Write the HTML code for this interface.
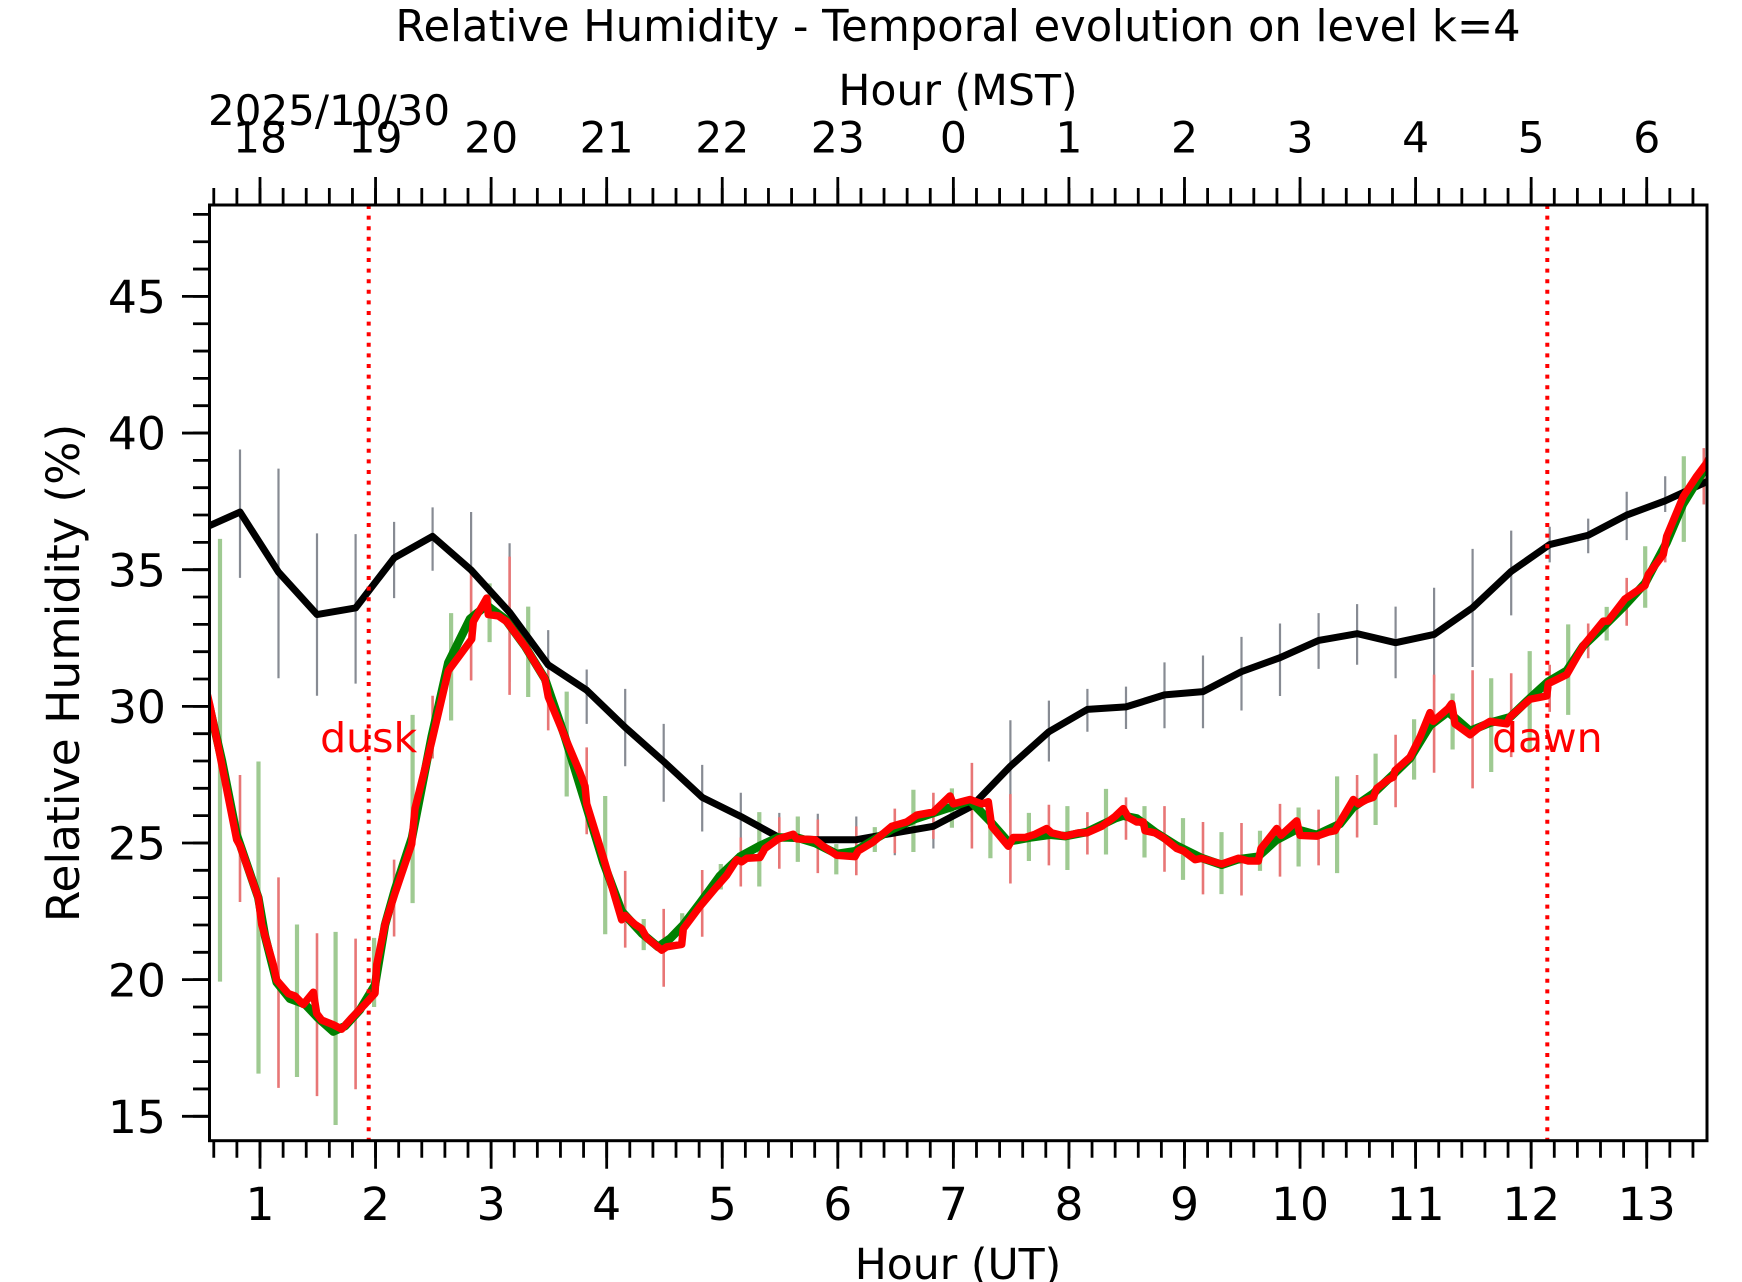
<!DOCTYPE html>
<html><head><meta charset="utf-8"><style>
html,body{margin:0;padding:0;background:#fff;}
svg{display:block;font-family:"DejaVu Sans","Liberation Sans",sans-serif;}
</style></head><body>
<svg width="1742" height="1282" viewBox="0 0 1742 1282" xmlns="http://www.w3.org/2000/svg">
<rect width="1742" height="1282" fill="#fff"/>
<defs><clipPath id="pa"><rect x="209.5" y="205" width="1497.5" height="935.7"/></clipPath></defs>

<!-- data -->
<g clip-path="url(#pa)">
<g transform="matrix(1 0 0 -27.33 0 1526.25)" fill="none">
<path vector-effect="non-scaling-stroke" stroke="#878b93" stroke-width="2.2" d="M240 39.4V34.7M278.5 38.7V31.03M317 36.33V30.39M355.6 36.3V30.83M394.1 36.75V33.96M432.6 37.28V34.96M471.1 37.11V30.95M509.6 35.97V30.9M548.2 32.79V30.25M586.7 31.35V29.36M625.2 30.64V27.81M663.7 29.36V26.51M702.2 27.86V25.42M740.8 26.84V25.1M779.3 26.1V24.3M817.8 26.07V24.2M856.3 25.97V24.3M894.8 26.2V24.55M933.4 26.4V24.8M971.9 27.3V25.4M1010.4 29.49V26.1M1048.9 30.21V27.98M1087.4 30.64V29.07M1126 30.72V29.17M1164.5 31.61V29.2M1203 31.86V29.2M1241.5 32.54V29.85M1280 33.03V30.38M1318.6 33.41V31.37M1357.1 33.74V31.52M1395.6 33.65V31.03M1434.1 34.34V30.9M1472.6 35.76V31.44M1511.2 36.43V33.33M1549.7 36.57V35.27M1588.2 36.87V35.6M1626.7 37.85V36.08M1665.2 38.42V37.11M1703.8 39.0V37.39"/>
<path vector-effect="non-scaling-stroke" stroke="#9fca92" stroke-width="4.2" d="M220 36.13V19.93M258.5 27.98V16.56M297 22.02V16.44M335.6 21.75V14.68M374.1 21.53V19.0M412.6 29.69V22.8M451.1 33.41V29.48M489.6 34.5V32.35M528.2 33.65V30.34M566.7 30.54V26.7M605.2 26.72V21.66M643.7 22.22V21.08M682.2 22.43V21.7M720.8 24.23V23.3M759.3 26.13V23.41M797.8 25.97V24.31M836.3 24.96V23.85M874.8 25.58V24.67M913.4 26.95V24.67M951.9 27.0V25.56M990.4 26.13V24.44M1028.9 26.1V24.34M1067.4 26.35V24.01M1106 26.98V24.58M1144.5 26.35V24.47M1183 25.91V23.65M1221.5 25.4V23.13M1260 25.45V23.98M1298.6 26.3V24.14M1337.1 27.44V23.9M1375.6 28.27V25.66M1414.1 29.53V27.32M1452.6 30.47V28.42M1491.2 31.03V27.6M1529.7 32.02V28.39M1568.2 33.0V29.69M1606.7 33.64V32.41M1645.2 35.86V33.61M1683.8 39.15V36.02"/>
<path vector-effect="non-scaling-stroke" stroke="#e87676" stroke-width="2.6" d="M240 27.49V22.84M278.5 23.74V16.04M317 21.7V15.74M355.6 21.5V15.99M394.1 24.39V21.58M432.6 30.39V28.09M471.1 34.9V30.95M509.6 35.48V30.42M548.2 31.32V29.12M586.7 28.5V25.32M625.2 23.98V21.17M663.7 22.59V19.74M702.2 24.01V21.57M740.8 25.2V23.41M779.3 25.94V24.06M817.8 25.86V23.9M856.3 25.61V23.82M894.8 26.26V24.63M933.4 26.84V25.15M971.9 27.93V24.8M1010.4 26.79V23.52M1048.9 26.4V24.18M1087.4 26.13V24.58M1126 26.67V25.12M1164.5 26.35V23.95M1203 25.77V23.12M1241.5 25.73V23.08M1280 26.43V23.77M1318.6 26.22V24.18M1357.1 27.49V25.2M1395.6 28.96V26.31M1434.1 31.16V27.57M1472.6 31.32V27.0M1511.2 31.21V28.14M1549.7 31.52V29.8M1588.2 33.03V31.76M1626.7 34.7V32.95M1665.2 36.25V35.27M1703.8 39.45V37.39"/>
<polyline vector-effect="non-scaling-stroke" stroke="#000" stroke-width="7" stroke-linejoin="round" points="201.5,36.48 240,37.11 278.5,34.91 317,33.36 355.6,33.6 394.1,35.43 432.6,36.22 471.1,34.99 509.6,33.44 548.2,31.52 586.7,30.59 625.2,29.23 663.7,27.98 702.2,26.67 740.8,25.97 779.3,25.2 817.8,25.12 856.3,25.12 894.8,25.37 933.4,25.61 971.9,26.35 1010.4,27.81 1048.9,29.07 1087.4,29.89 1126,29.98 1164.5,30.42 1203,30.54 1241.5,31.27 1280,31.78 1318.6,32.41 1357.1,32.66 1395.6,32.33 1434.1,32.63 1472.6,33.61 1511.2,34.94 1549.7,35.92 1588.2,36.26 1626.7,37.0 1665.2,37.52 1703.8,38.17 1742.3,38.8"/>
<polyline vector-effect="non-scaling-stroke" stroke="#008000" stroke-width="8.5" stroke-linejoin="round" points="205,30.6 210,29.9 222,28.0 236.7,25.3 258.3,23.0 265,21.6 276.7,19.9 290,19.3 305,19.1 318,18.6 333.3,18.1 345,18.3 360,18.9 375,19.8 385,22.0 395,23.3 412,25.2 431.7,28.9 448.3,31.6 470,33.2 486.7,33.7 505,33.2 525,32.2 545,31.0 565,28.87 585,26.5 603.3,24.3 621.7,22.5 641.7,21.7 658,21.2 670,21.5 683.3,22.0 700,22.8 720,23.8 740,24.5 760,24.9 778,25.2 797,25.2 815,25.0 836.7,24.6 855,24.7 873,25.1 891.7,25.5 916.7,25.9 950,26.3 970,26.55 990,25.8 1008,25.05 1030,25.2 1050,25.3 1065,25.25 1086.7,25.4 1115,25.9 1123,26.0 1136.7,25.9 1155,25.4 1176.7,24.9 1201.7,24.45 1221.7,24.2 1238,24.4 1258,24.5 1276,25.1 1296.7,25.5 1316.7,25.3 1340,25.7 1353,26.3 1373,26.8 1393,27.5 1410,28.1 1430,29.3 1448,29.8 1470,29.1 1490,29.4 1510,29.6 1530,30.3 1548,30.9 1566.7,31.3 1583,32.2 1603,32.9 1625,33.7 1645,34.5 1666.7,36.0 1683,37.4 1706.7,38.8 1712,39.2"/>
<polyline vector-effect="non-scaling-stroke" stroke="#ff0000" stroke-width="7.5" stroke-linejoin="round" points="205,30.8 210,30.02 220,28.2 236.7,25.12 240,24.9 258.3,23.0 261.7,22.02 273.3,20.55 276.7,19.98 288.3,19.49 295,19.4 303.3,19.09 313.3,19.54 316.7,18.76 321.7,18.52 333.3,18.35 341.7,18.19 351.7,18.6 365,19.1 375,19.5 376.7,20.55 385,22.02 395,23.16 411.7,24.96 415,26.26 431.7,28.71 448.3,31.3 471.7,32.46 473.3,33.1 486.7,33.96 488.3,33.36 498.3,33.31 506.7,33.1 525,32.2 545,30.99 548.3,30.34 565,28.87 580,27.57 585,27.08 586.7,26.43 603.3,24.47 621.7,22.19 625,22.35 635,22.02 641.7,21.86 646.7,21.53 661.7,21.08 666.7,21.2 681.7,21.29 683.3,21.86 700,22.68 715,23.33 726.7,23.82 736.7,24.39 741.7,24.31 746.7,24.44 760,24.47 765,24.8 778.3,25.15 793.3,25.32 796.7,25.15 815,25.12 823.3,24.88 836.7,24.55 855,24.5 858.3,24.71 873.3,25.04 891.7,25.61 906.7,25.77 916.7,26.02 933.3,26.13 950,26.72 953.3,26.43 970,26.59 981.7,26.43 988.3,26.51 991.7,25.61 1008.3,24.88 1013.3,25.2 1025,25.2 1035,25.32 1046.7,25.53 1051.7,25.37 1065,25.25 1078.3,25.37 1086.7,25.37 1101.7,25.61 1115,25.97 1123.3,26.26 1128.3,25.94 1136.7,25.77 1143.3,25.77 1145,25.45 1155,25.37 1163.3,25.2 1176.7,24.8 1183.3,24.71 1195,24.39 1201.7,24.44 1221.7,24.23 1238.3,24.44 1248.3,24.34 1258.3,24.34 1261,24.8 1276.7,25.53 1281,25.28 1296.7,25.81 1300,25.28 1316.7,25.25 1328.3,25.4 1335,25.45 1340,25.77 1353.3,26.59 1358.3,26.43 1366.7,26.59 1373.3,26.67 1376.7,27.0 1388.3,27.32 1393.3,27.41 1395,27.65 1410,28.14 1420,28.87 1430,29.77 1433.3,29.45 1448.3,29.93 1451.7,30.1 1455,29.36 1470,28.96 1478.3,29.2 1490,29.45 1506.7,29.36 1510,29.61 1530,30.26 1546.7,30.38 1548.3,30.83 1566.7,31.16 1583.3,32.22 1603.3,33.12 1608,33.12 1625,33.93 1645,34.42 1648.3,34.83 1663.3,35.56 1666.7,36.22 1683.3,37.68 1696.7,38.42 1706.7,38.91 1712,39.3"/>
</g>
<!-- dusk / dawn -->
<line x1="368.7" y1="205" x2="368.7" y2="1140.7" stroke="#ff0000" stroke-width="4" stroke-dasharray="4 6.6"/>
<line x1="1547.3" y1="205" x2="1547.3" y2="1140.7" stroke="#ff0000" stroke-width="4" stroke-dasharray="4 6.6"/>
<text x="368.7" y="752" font-size="41" fill="#ff0000" text-anchor="middle">dusk</text>
<text x="1547.3" y="752" font-size="41" fill="#ff0000" text-anchor="middle">dawn</text>
</g>

<!-- axes frame -->
<rect x="209.5" y="205" width="1497.5" height="935.7" fill="none" stroke="#000" stroke-width="3"/>

<!-- minor ticks -->
<line x1="212.38" y1="1149.2" x2="1694.35" y2="1149.2" stroke="#000" stroke-width="17" stroke-dasharray="2.8 20.312"/>
<line x1="212.38" y1="196.5" x2="1694.35" y2="196.5" stroke="#000" stroke-width="17" stroke-dasharray="2.8 20.312"/>
<line x1="201.5" y1="213" x2="201.5" y2="1117.7" stroke="#000" stroke-width="17" stroke-dasharray="2.8 24.53"/>

<!-- major ticks -->
<g stroke="#000" stroke-width="2.8">
<path d="M260 1140.7v28M375.56 1140.7v28M491.12 1140.7v28M606.68 1140.7v28M722.24 1140.7v28M837.8 1140.7v28M953.36 1140.7v28M1068.92 1140.7v28M1184.48 1140.7v28M1300.04 1140.7v28M1415.6 1140.7v28M1531.16 1140.7v28M1646.72 1140.7v28"/>
<path d="M260 205v-28M375.56 205v-28M491.12 205v-28M606.68 205v-28M722.24 205v-28M837.8 205v-28M953.36 205v-28M1068.92 205v-28M1184.48 205v-28M1300.04 205v-28M1415.6 205v-28M1531.16 205v-28M1646.72 205v-28"/>
<path d="M210 1116.3h-28M210 979.65h-28M210 843h-28M210 706.35h-28M210 569.7h-28M210 433.05h-28M210 296.4h-28"/>
</g>

<!-- y tick labels -->
<g font-size="45.7" text-anchor="end" fill="#000">
<text x="166" y="1132.9">15</text>
<text x="166" y="996.25">20</text>
<text x="166" y="859.6">25</text>
<text x="166" y="722.95">30</text>
<text x="166" y="586.3">35</text>
<text x="166" y="449.65">40</text>
<text x="166" y="313">45</text>
</g>

<!-- bottom tick labels -->
<g font-size="45.7" text-anchor="middle" fill="#000">
<text x="260" y="1220">1</text>
<text x="375.56" y="1220">2</text>
<text x="491.12" y="1220">3</text>
<text x="606.68" y="1220">4</text>
<text x="722.24" y="1220">5</text>
<text x="837.8" y="1220">6</text>
<text x="953.36" y="1220">7</text>
<text x="1068.92" y="1220">8</text>
<text x="1184.48" y="1220">9</text>
<text x="1300.04" y="1220">10</text>
<text x="1415.6" y="1220">11</text>
<text x="1531.16" y="1220">12</text>
<text x="1646.72" y="1220">13</text>
</g>

<!-- top tick labels -->
<g font-size="42.5" text-anchor="middle" fill="#000">
<text x="260" y="152.5">18</text>
<text x="375.56" y="152.5">19</text>
<text x="491.12" y="152.5">20</text>
<text x="606.68" y="152.5">21</text>
<text x="722.24" y="152.5">22</text>
<text x="837.8" y="152.5">23</text>
<text x="953.36" y="152.5">0</text>
<text x="1068.92" y="152.5">1</text>
<text x="1184.48" y="152.5">2</text>
<text x="1300.04" y="152.5">3</text>
<text x="1415.6" y="152.5">4</text>
<text x="1531.16" y="152.5">5</text>
<text x="1646.72" y="152.5">6</text>
</g>

<!-- labels -->
<text x="958" y="41" font-size="43.2" text-anchor="middle" fill="#000">Relative Humidity - Temporal evolution on level k=4</text>
<text x="958" y="105" font-size="42.6" text-anchor="middle" fill="#000">Hour (MST)</text>
<text x="208" y="125" font-size="42" fill="#000">2025/10/30</text>
<text x="958" y="1279" font-size="42.6" text-anchor="middle" fill="#000">Hour (UT)</text>
<text transform="translate(79 673) rotate(-90)" font-size="45.6" text-anchor="middle" fill="#000">Relative Humidity (%)</text>
</svg>
</body></html>
